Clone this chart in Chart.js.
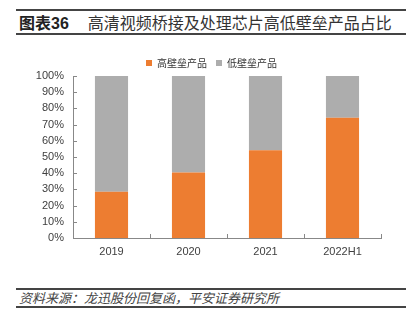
<!DOCTYPE html>
<html>
<head>
<meta charset="utf-8">
<script src="https://cdn.jsdelivr.net/npm/chart.js@4.4.0/dist/chart.umd.min.js"></script>
<style>
  body { margin: 0; background: #fff; width: 418px; height: 326px; position: relative; overflow: hidden;
         font-family: "Liberation Sans", "Noto Sans CJK SC", sans-serif; }
  .rule { position: absolute; left: 16px; width: 390px; background: #444; }
  #title { position: absolute; left: 19px; top: 12px; font-family: "Noto Sans CJK SC", sans-serif;
           font-size: 16px; line-height: 21px; color: #333; white-space: nowrap; }
  #title b { font-family: "Liberation Sans", "Noto Sans CJK SC", sans-serif; font-weight: bold; margin-right: 19px; color: #222; }
  #title b span { font-family: "Noto Sans CJK SC", sans-serif; }
  #source { position: absolute; left: 19px; top: 290px; font-family: "Noto Sans CJK SC", sans-serif;
            font-size: 13px; line-height: 15px; color: #444; font-style: italic; white-space: nowrap; }
  #wrap { position: absolute; left: 0; top: 49px; width: 418px; height: 226px; }
</style>
</head>
<body>
<div class="rule" style="top:9px;height:2px"></div>
<div id="title"><b><span>图表</span>36</b>高清视频桥接及处理芯片高低壁垒产品占比</div>
<div class="rule" style="top:33px;height:2px"></div>

<div id="wrap"><canvas id="barChart"></canvas></div>

<div class="rule" style="top:288px;height:2px"></div>
<div id="source">资料来源：龙迅股份回复函，平安证券研究所</div>
<div class="rule" style="top:306px;height:2px"></div>

<script>
const ctx = document.getElementById('barChart');

const years = ['2019', '2020', '2021', '2022H1'];
const highBarrier = [28.5, 40.4, 54.2, 74.2];
const lowBarrier = [71.5, 59.6, 45.8, 25.8];
const seriesNames = ['高壁垒产品', '低壁垒产品'];

// short tick marks pointing into the plot, like the original
const innerTicks = {
  id: 'innerTicks',
  afterLayout(chart) {
    // legend sits a bit right of the canvas centre in the original
    chart.legend.left += 21;
    chart.legend.right += 21;
  },
  afterDraw(chart) {
    const { ctx, scales: { x, y } } = chart;
    ctx.save();
    ctx.strokeStyle = '#888';
    ctx.lineWidth = 1;
    ctx.beginPath();
    y.ticks.forEach(t => {
      if (t.value === 0) return;
      const py = Math.round(y.getPixelForValue(t.value)) + 0.5;
      ctx.moveTo(x.left, py);
      ctx.lineTo(x.left + 4, py);
    });
    for (let i = 0; i < years.length; i++) {
      const px = Math.round(x.getPixelForValue(i + 0.5)) + 0.5;
      ctx.moveTo(px, y.bottom);
      ctx.lineTo(px, y.bottom - 4);
    }
    ctx.stroke();
    ctx.restore();
  }
};

const chart = new Chart(ctx, {
  type: 'bar',
  data: {
    labels: years,
    datasets: [
      { label: seriesNames[0], data: highBarrier, backgroundColor: '#ED7D31' },
      { label: seriesNames[1], data: lowBarrier, backgroundColor: '#ADADAD' },
    ],
  },
  options: {
    responsive: true,
    maintainAspectRatio: false,
    animation: false,
    layout: { padding: { left: 0, right: 37, top: 0, bottom: 0 } },
    datasets: { bar: { categoryPercentage: 1, barPercentage: 0.43 } },
    plugins: {
      legend: {
        position: 'top',
        maxHeight: 27,
        labels: {
          boxWidth: 6, boxHeight: 6, padding: 9,
          color: '#333',
          font: { family: '"Noto Sans CJK SC", sans-serif', size: 10 },
        },
      },
      tooltip: { enabled: false },
    },
    scales: {
      x: {
        stacked: true,
        afterFit: s => { s.height = 37; },
        grid: { display: false, drawTicks: true, tickLength: 4 },
        border: { display: true, color: '#888', width: 1 },
        ticks: { padding: 3, color: '#404040', font: { family: '"Liberation Sans", sans-serif', size: 11 } },
      },
      y: {
        stacked: true,
        min: 0, max: 100,
        afterFit: s => { s.width = 73; },
        grid: { display: false, drawTicks: true, tickLength: 6 },
        border: { display: true, color: '#888', width: 1 },
        ticks: {
          stepSize: 10, padding: 3, autoSkip: false, color: '#404040',
          font: { family: '"Liberation Sans", sans-serif', size: 11 },
          callback: v => v + '%',
        },
      },
    },
  },
  plugins: [innerTicks],
});
</script>
</body>
</html>
